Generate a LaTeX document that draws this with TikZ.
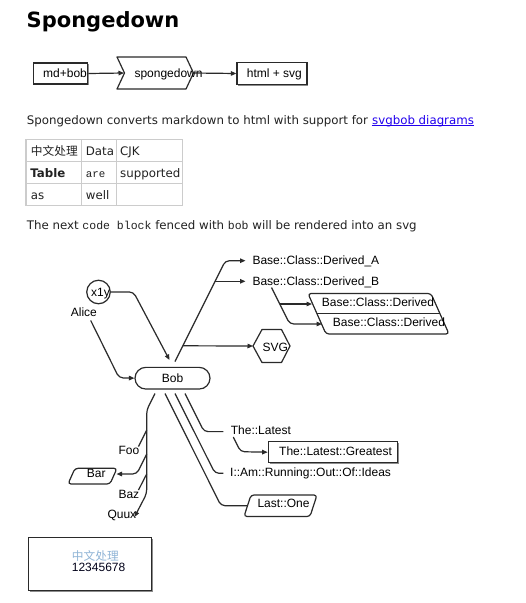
\documentclass[tikz,border=0pt]{standalone}
\usepackage{fontspec}
\setmainfont{DejaVu Sans}
\newfontfamily\arialf{Liberation Sans}
\newfontfamily\monof{Liberation Mono}
\newfontfamily\cjkf{Noto Sans CJK SC}
\usetikzlibrary{arrows.meta,shapes.misc,calc,shadows}
\definecolor{txt}{HTML}{222222}
\definecolor{linkblue}{HTML}{2200EE}
\definecolor{tblgray}{HTML}{CCCCCC}
\definecolor{cjkblue}{HTML}{8FB4D6}
\definecolor{boxc}{HTML}{2A2A2A}
\begin{document}
\begin{tikzpicture}[x=1pt,y=-1pt,
  lbl/.style={anchor=base west,inner sep=0pt,font=\arialf\fontsize{12}{14}\selectfont},
  body/.style={anchor=base west,inner sep=0pt,text=txt,font=\fontsize{11.8}{14}\selectfont},
  wire/.style={draw=boxc,line width=1.2pt,rounded corners=4pt},
  arr/.style={wire,-{Triangle[length=5.5pt,width=4.5pt]}},
  shapeline/.style={draw=boxc,line width=1.2pt,line join=round},
  sbox/.style={draw=boxc,line width=1.3pt,fill=white,inner sep=0pt,
    drop shadow={shadow xshift=1.3pt,shadow yshift=-1.3pt,fill=black!45,opacity=1}},
  tbl/.style={draw=tblgray,line width=1.1pt}
]
\fill[white] (0,0) rectangle (526,603);
\useasboundingbox (0,0) rectangle (526,603);

% title
\node[anchor=base west,inner sep=0pt,text=black,font=\bfseries\fontsize{21}{24}\selectfont] (title) at (26.5,27.5) {Spongedown};

% top flow
\node[sbox,minimum width=54.5,minimum height=21] (md) at (60.5,73.5) {};
\node[lbl] (mdt) at (43,77) {md+bob};
\draw[shapeline,fill=white] (117,57) -- (186,57) -- (193.5,73) -- (186,89) -- (117,89) -- (124.5,73) -- cycle;
\coordinate (sdin) at (124,73);
\coordinate (sdout) at (193.5,73);
\node[lbl] (sdt) at (134.3,77) {spongedown};
\node[sbox,minimum width=70,minimum height=21.5] (html) at (272,73.5) {};
\node[lbl] (htmlt) at (246.7,77) {html + svg};
\draw[arr] (md.east) -- (sdin);
\draw[arr] (sdout) -- (html.west);

% paragraph
\node[body] (p1) at (26.7,124) {Spongedown converts markdown to html with support for};
\node[body,text=linkblue] (link) at ($(p1.base east)+(3.75,0)$) {svgbob diagrams};
\draw[linkblue,line width=0.8pt] ($(link.base west)+(0,1.6)$) -- ($(link.base east)+(0,1.6)$);

% table
\draw[tbl] (26,139.5) rectangle (182.5,205.5);
\draw[tbl] (81.7,139.5) -- (81.7,205.5);
\draw[tbl] (116.7,139.5) -- (116.7,205.5);
\draw[tbl] (26,161.3) -- (182.5,161.3);
\draw[tbl] (26,183.3) -- (182.5,183.3);
\node[body,font=\cjkf\fontsize{11.7}{14}\selectfont] (c11) at (30.7,155) {中文处理};
\node[body] (c12) at (85.7,155) {Data};
\node[body] (c13) at (120,155) {CJK};
\node[body,font=\bfseries\fontsize{11.8}{14}\selectfont] (c21) at (30.2,177) {Table};
\node[body,font=\monof\fontsize{10.8}{14}\selectfont] (c22) at (85.7,177) {are};
\node[body] (c23) at (120,177) {supported};
\node[body] (c31) at (30.7,199) {as};
\node[body] (c32) at (85.7,199) {well};

% paragraph 3
\node[body] (p3) at (26.7,229.5) {The next {\monof\fontsize{11.5}{14}\selectfont code block} fenced with {\monof\fontsize{11.5}{14}\selectfont bob} will be rendered into an svg};

% ===== svgbob diagram =====
\node[draw=boxc,line width=1.2pt,circle,minimum size=23.5,inner sep=0pt] (x1y) at (98.5,292) {};
\node[lbl] (x1yt) at (91,296.5) {x1y};
\node[lbl] (alice) at (70.7,316.5) {Alice};
\node[draw=boxc,line width=1.2pt,rounded rectangle,minimum width=75,minimum height=21.7,inner sep=0pt,fill=white,font=\arialf\fontsize{12}{14}\selectfont] (bob) at (172.5,378.2) {Bob};

\coordinate (aX) at (169.5,360);
\coordinate (al) at (90.7,320.5);
\draw[arr] (x1y.east) -- (133.5,292) -- (aX);
\draw[arr] (al) -- (119,377.8) -- (bob.west);

% upper right fan
\node[lbl] (dA) at (252.3,264.3) {Base::Class::Derived\_A};
\node[lbl] (dB) at (252.3,285.3) {Base::Class::Derived\_B};
\coordinate (bt) at (175,361.5);
\coordinate (jB) at (215.1,281.3);
\coordinate (jS) at (182.9,345.8);
\coordinate (aA) at (245.5,260.7);
\coordinate (aB) at (245.5,281.3);
\draw[arr] (bt) -- (225.4,260.7) -- (aA);
\draw[arr] (jB) -- (aB);

% double parallelogram
\draw[shapeline,rounded corners=3pt] (308,293.5) -- (431,293.5) -- (449,334) -- (326,334) -- cycle;
\draw[shapeline] (317,313.7) -- (440,313.7);
\node[lbl] (dC1) at (321.7,306) {Base::Class::Derived};
\node[lbl] (dC2) at (332.7,326.3) {Base::Class::Derived};
\coordinate (db0) at (271.5,287.5);
\coordinate (jD) at (279.75,304);
\coordinate (aC1) at (312,304);
\coordinate (aC2) at (322,324);
\draw[arr] (db0) -- (289.75,324) -- (aC2);
\draw[arr] (jD) -- (aC1);

% SVG hexagon
\draw[shapeline] (253,346) -- (262,329.5) -- (281.5,329.5) -- (290,346) -- (281.5,362.5) -- (262,362.5) -- cycle;
\node[lbl] (svg) at (262.3,351.5) {SVG};
\coordinate (aS) at (253,346);
\draw[arr] (jS) -- (aS);

% lower left
\node[lbl] (foo) at (118.3,454.5) {Foo};
\node[lbl] (baz) at (118.3,498) {Baz};
\node[lbl] (quux) at (107.3,518.5) {Quux};
\draw[shapeline,rounded corners=3pt,fill=white] (75,468.3) -- (117,468.3) -- (110,484) -- (68,484) -- cycle;
\node[lbl] (bar) at (86.7,477) {Bar};
\coordinate (bl0) at (155,393.5);
\coordinate (jF) at (146.7,430);
\coordinate (jBar) at (146.7,454);
\coordinate (jBaz) at (146.7,474);
\coordinate (aQ) at (134.5,517);
\coordinate (aBar) at (116.5,474);
\draw[arr] (bl0) -- (146.7,410) -- (146.7,493.5) -- (aQ);
\draw[wire] (jF) -- (138.5,446.5);
\draw[arr] (jBar) -- (136.7,474) -- (aBar);
\draw[wire] (jBaz) -- (138.5,490);

% lower right
\node[lbl] (lat) at (230.7,434) {The::Latest};
\node[sbox,minimum width=129,minimum height=21] (gr) at (332.8,452.2) {};
\node[lbl] (grt) at (279,455.2) {The::Latest::Greatest};
\node[lbl] (ideas) at (230,476.5) {I::Am::Running::Out::Of::Ideas};
\draw[shapeline,rounded corners=3pt] (251,495) -- (317,495) -- (310,516.5) -- (244,516.5) -- cycle;
\node[lbl] (last) at (257.3,507.5) {Last::One};
\coordinate (r1) at (165,393.5);
\coordinate (r2) at (175,393.5);
\coordinate (r3) at (185,393.5);
\coordinate (aL) at (247.5,505.7);
\coordinate (eI) at (223.3,473.3);
\coordinate (eT) at (223.3,431.6);
\coordinate (lat0) at (233.3,437);
\draw[wire] (r1) -- (221,505.7) -- (aL);
\draw[wire] (r2) -- (215,473.3) -- (eI);
\draw[wire] (r3) -- (204,431.6) -- (eT);
\draw[arr] (lat0) -- (240.6,451.7) -- (gr.west);

% bottom box
\node[sbox,minimum width=123.4,minimum height=53.4] (cb) at (90,564) {};
\node[lbl,font=\cjkf\fontsize{11.7}{14}\selectfont,text=cjkblue] (cbz) at (71.7,560) {中文处理};
\node[lbl,text=black!90!blue] (cbn) at (71.7,571.7) {12345678};
\end{tikzpicture}
\end{document}
